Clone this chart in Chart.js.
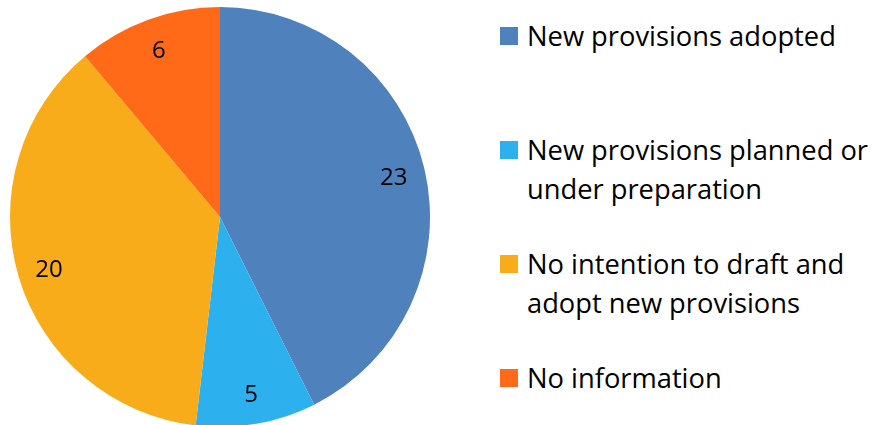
<!doctype html>
<html>
  <head>
    <title>New provisions</title>
    <script src="https://cdn.jsdelivr.net/npm/chart.js"></script>
    <style>
      html, body {
        margin: 0;
        padding: 0;
        width: 874px;
        height: 425px;
        overflow: hidden;
        background: #fff;
        font-family: 'Open Sans', sans-serif;
      }
      .pie-box {
        position: absolute;
        left: 0;
        top: 0;
        width: 441px;
        height: 427px;
      }
      #legend {
        position: absolute;
        left: 500px;
        top: 16px;
        margin: 0;
        padding: 0;
        list-style: none;
      }
      #legend li {
        position: relative;
        height: 114px;
        padding-left: 27px;
        font-size: 27.3px;
        line-height: 39px;
        color: #000;
        white-space: nowrap;
      }
      #legend li span {
        position: absolute;
        left: 0;
        top: 11px;
        width: 18px;
        height: 18px;
      }
    </style>
  </head>
  <body>
    <div class="pie-box"><canvas id="pie" width="441" height="427"></canvas></div>
    <ul id="legend"></ul>

    <script>
      const categories = [
        ['New provisions adopted'],
        ['New provisions planned or', 'under preparation'],
        ['No intention to draft and', 'adopt new provisions'],
        ['No information'],
      ];
      const counts = [23, 5, 20, 6];
      const colors = ['#4f81bd', '#2cb1ee', '#f9ac1a', '#ff6a18'];

      // numbers drawn inside each slice
      const sliceLabels = {
        id: 'sliceLabels',
        afterDatasetsDraw(chart) {
          const ctx = chart.ctx;
          const meta = chart.getDatasetMeta(0);
          ctx.save();
          ctx.font = '24px "Open Sans", sans-serif';
          ctx.fillStyle = '#000';
          ctx.textAlign = 'center';
          ctx.textBaseline = 'middle';
          meta.data.forEach((arc, i) => {
            const p = arc.getProps(['x', 'y', 'startAngle', 'endAngle', 'outerRadius']);
            const mid = (p.startAngle + p.endAngle) / 2;
            const r = p.outerRadius * 0.85;
            ctx.fillText(String(counts[i]), p.x + Math.cos(mid) * r, p.y + Math.sin(mid) * r + 2);
          });
          ctx.restore();
        },
      };

      new Chart(document.getElementById('pie').getContext('2d'), {
        type: 'pie',
        data: {
          labels: categories.map((c) => c.join(' ')),
          datasets: [
            {
              data: counts,
              backgroundColor: colors,
              borderWidth: 0,
            },
          ],
        },
        options: {
          responsive: false,
          animation: false,
          layout: { padding: { top: 7, left: 10, right: 11, bottom: 0 } },
          plugins: {
            legend: { display: false },
            tooltip: { enabled: false },
          },
        },
        plugins: [sliceLabels],
      });

      const legend = document.getElementById('legend');
      categories.forEach((lines, i) => {
        const li = document.createElement('li');
        li.innerHTML = `<span style="background:${colors[i]}"></span>${lines.join('<br>')}`;
        legend.appendChild(li);
      });
    </script>
  </body>
</html>
